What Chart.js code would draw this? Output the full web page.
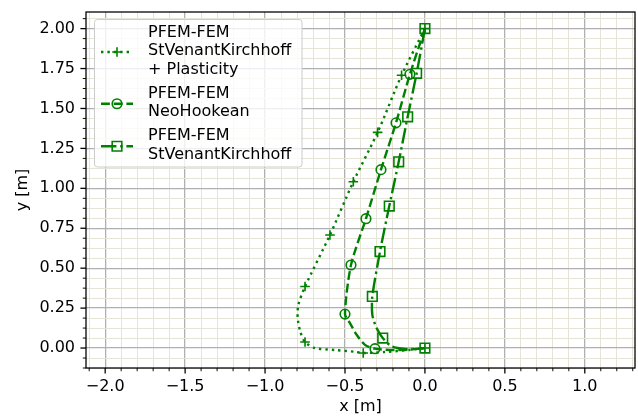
<!DOCTYPE html>
<html>
<head>
<meta charset="utf-8">
<script src="https://cdn.jsdelivr.net/npm/chart.js@4.4.0/dist/chart.umd.min.js"></script>
<style>
  html, body { margin: 0; padding: 0; background: #fff; }
  #wrap { width: 638px; height: 418px; }
</style>
</head>
<body>
<div id="wrap"><canvas id="chart" width="638" height="418"></canvas></div>
<script>
const GREEN = '#008000';
const FONT = '"DejaVu Sans", "Liberation Sans", sans-serif';

// PFEM-FEM StVenantKirchhoff + Plasticity (dotted, +)
const plastX = [0.0, -0.146, -0.296, -0.448, -0.594, -0.750, -0.792, -0.796, -0.780, -0.750, -0.688, -0.563, -0.440, -0.386, -0.250, -0.100, 0.0];
const plastY = [2.0, 1.708, 1.350, 1.041, 0.708, 0.385, 0.270, 0.190, 0.104, 0.0375, 0.0, -0.0125, -0.023, -0.031, -0.025, -0.012, 0.0];
const plastMark = [1, 1, 1, 1, 1, 1, 0, 0, 0, 1, 0, 0, 0, 1, 0, 0, 1];

// PFEM-FEM NeoHookean (dashed, o)
const neoX = [0.0, -0.094, -0.181, -0.275, -0.369, -0.4625, -0.500, -0.469, -0.427, -0.375, -0.3125, -0.220, -0.100, 0.0];
const neoY = [2.0, 1.714, 1.410, 1.117, 0.810, 0.520, 0.2125, 0.156, 0.083, 0.020, -0.004, -0.012, -0.010, 0.0];
const neoMark = [0, 1, 1, 1, 1, 1, 1, 0, 0, 0, 1, 0, 0, 0];

// PFEM-FEM StVenantKirchhoff (dash-dot, square)
const stvkX = [0.0, -0.052, -0.108, -0.164, -0.223, -0.281, -0.329, -0.329, -0.302, -0.264, -0.208, -0.125, -0.040, 0.0];
const stvkY = [2.0, 1.720, 1.448, 1.166, 0.889, 0.604, 0.323, 0.208, 0.125, 0.0625, 0.010, -0.006, -0.004, 0.0];
const stvkMark = [1, 1, 1, 1, 1, 1, 1, 0, 0, 1, 0, 0, 0, 1];

const legendLabels = [
  ['PFEM-FEM', 'StVenantKirchhoff', '+ Plasticity'],
  ['PFEM-FEM', 'NeoHookean'],
  ['PFEM-FEM', 'StVenantKirchhoff']
];

const xMajorTicks = [-2.0, -1.5, -1.0, -0.5, 0.0, 0.5, 1.0];
const yMajorTicks = [0.00, 0.25, 0.50, 0.75, 1.00, 1.25, 1.50, 1.75, 2.00];
const xMinorStep = 0.1;
const yMinorStep = 0.0625;
const xRange = [-2.12, 1.314];
const yRange = [-0.125, 2.104];

// minor + major tick positions for the grid
const xTickValues = [];
for (let i = Math.ceil(xRange[0] / xMinorStep); i * xMinorStep <= xRange[1] + 1e-9; i++) xTickValues.push(+(i * xMinorStep).toFixed(4));
const yTickValues = [];
for (let i = Math.ceil(yRange[0] / yMinorStep - 1e-9); i * yMinorStep <= yRange[1] + 1e-9; i++) yTickValues.push(+(i * yMinorStep).toFixed(4));

const isMajor = (v, list) => list.some(m => Math.abs(m - v) < 1e-6);
const fmt = (v, d) => {
  const s = Math.abs(v).toFixed(d);
  return v < -1e-9 ? '\u2212' + s : s;
};

const series = [
  { label: legendLabels[0], xs: plastX, ys: plastY, mark: plastMark, dash: [2.4, 4], style: 'cross', r: 4.8 },
  { label: legendLabels[1], xs: neoX, ys: neoY, mark: neoMark, dash: [8.9, 3.8], style: 'circle', r: 4.8 },
  { label: legendLabels[2], xs: stvkX, ys: stvkY, mark: stvkMark, dash: [15.4, 3.8, 2.4, 3.8], style: 'rect', r: 6.8 }
];

const datasets = series.map(s => ({
  label: s.label.join(' '),
  data: s.xs.map((x, i) => ({ x, y: s.ys[i] })),
  showLine: true,
  borderColor: GREEN,
  borderWidth: 2.4,
  borderDash: s.dash,
  borderCapStyle: 'butt',
  tension: 0.25,
  pointStyle: s.style,
  pointRadius: ctx => s.mark[ctx.dataIndex] ? s.r : 0,
  pointHoverRadius: ctx => s.mark[ctx.dataIndex] ? s.r : 0,
  pointBorderColor: GREEN,
  pointBackgroundColor: 'rgba(0,0,0,0)',
  pointBorderWidth: 1.6
}));

// no extra room for half labels at the axis ends
function noEndPadding(axis) {
  axis.paddingTop = 0;
  axis.paddingBottom = 0;
  axis.paddingLeft = 0;
  axis.paddingRight = 0;
}

// ticks, frame, axis titles and the legend box
const decorPlugin = {
  id: 'decor',
  afterDraw(chart) {
    const { ctx, chartArea: a, scales } = chart;
    ctx.save();
    ctx.strokeStyle = '#000';
    // tick marks
    scales.x.ticks.forEach(t => {
      const major = isMajor(t.value, xMajorTicks);
      const px = scales.x.getPixelForValue(t.value);
      ctx.lineWidth = major ? 1.28 : 0.96;
      ctx.beginPath();
      ctx.moveTo(px, a.bottom);
      ctx.lineTo(px, a.bottom + (major ? 5.6 : 3.2));
      ctx.stroke();
    });
    scales.y.ticks.forEach(t => {
      const major = isMajor(t.value, yMajorTicks);
      const py = scales.y.getPixelForValue(t.value);
      ctx.lineWidth = major ? 1.28 : 0.96;
      ctx.beginPath();
      ctx.moveTo(a.left - (major ? 5.6 : 3.2), py);
      ctx.lineTo(a.left, py);
      ctx.stroke();
    });
    // frame
    ctx.lineWidth = 1.28;
    ctx.strokeRect(a.left, a.top, a.right - a.left, a.bottom - a.top);

    // axis titles
    ctx.fillStyle = '#000';
    ctx.font = '16px ' + FONT;
    ctx.textAlign = 'center';
    ctx.textBaseline = 'middle';
    ctx.fillText('x [m]', (a.left + a.right) / 2, 407);
    ctx.save();
    ctx.translate(23, (a.top + a.bottom) / 2);
    ctx.rotate(-Math.PI / 2);
    ctx.fillText('y [m]', 0, 0);
    ctx.restore();

    // legend
    const box = { x: 94.5, y: 19.5, w: 207.5, h: 147.5 };
    ctx.beginPath();
    ctx.roundRect(box.x, box.y, box.w, box.h, 3);
    ctx.fillStyle = 'rgba(255,255,255,0.8)';
    ctx.fill();
    ctx.strokeStyle = '#cccccc';
    ctx.lineWidth = 1;
    ctx.stroke();

    const lineH = 18.5, gap = 24;
    let y = 32.5;
    series.forEach(s => {
      const n = s.label.length;
      const sy = y + (n - 1) * lineH / 2 + 1;
      ctx.strokeStyle = GREEN;
      ctx.lineWidth = 2.4;
      ctx.setLineDash(s.dash);
      ctx.beginPath();
      ctx.moveTo(101, sy);
      ctx.lineTo(133, sy);
      ctx.stroke();
      ctx.setLineDash([]);
      ctx.fillStyle = 'rgba(0,0,0,0)';
      ctx.strokeStyle = GREEN;
      ctx.lineWidth = 1.6;
      Chart.helpers.drawPoint(ctx, { pointStyle: s.style, radius: s.r, borderWidth: 1.6, rotation: 0 }, 117, sy);
      ctx.fillStyle = '#000';
      ctx.textAlign = 'left';
      ctx.textBaseline = 'middle';
      s.label.forEach((txt, i) => ctx.fillText(txt, 148, y + i * lineH));
      y += (n - 1) * lineH + gap;
    });
    ctx.restore();
  }
};

new Chart(document.getElementById('chart').getContext('2d'), {
  type: 'scatter',
  data: { datasets },
  plugins: [decorPlugin],
  options: {
    responsive: false,
    animation: false,
    devicePixelRatio: 1,
    layout: { autoPadding: false, padding: { top: 12, right: 3, left: 0, bottom: 0 } },
    plugins: { legend: { display: false }, tooltip: { enabled: false } },
    scales: {
      x: {
        type: 'linear',
        min: xRange[0],
        max: xRange[1],
        afterBuildTicks: axis => { axis.ticks = xTickValues.map(v => ({ value: v })); },
        afterFit: axis => { axis.height = 50; noEndPadding(axis); },
        border: { display: false },
        grid: {
          drawTicks: false,
          color: c => isMajor(c.tick.value, xMajorTicks) ? '#b0b0b0' : '#e5e4d7',
          lineWidth: c => isMajor(c.tick.value, xMajorTicks) ? 1.28 : 1
        },
        ticks: {
          autoSkip: false,
          maxRotation: 0,
          padding: 9,
          color: '#000',
          font: { family: FONT, size: 16 },
          callback: v => isMajor(v, xMajorTicks) ? fmt(v, 1) : ''
        }
      },
      y: {
        type: 'linear',
        min: yRange[0],
        max: yRange[1],
        afterBuildTicks: axis => { axis.ticks = yTickValues.map(v => ({ value: v })); },
        afterFit: axis => { axis.width = 86; noEndPadding(axis); },
        border: { display: false },
        grid: {
          drawTicks: false,
          color: c => isMajor(c.tick.value, yMajorTicks) ? '#b0b0b0' : '#e5e4d7',
          lineWidth: c => isMajor(c.tick.value, yMajorTicks) ? 1.28 : 1
        },
        ticks: {
          autoSkip: false,
          padding: 11,
          color: '#000',
          font: { family: FONT, size: 16 },
          callback: v => isMajor(v, yMajorTicks) ? fmt(v, 2) : ''
        }
      }
    }
  }
});
</script>
</body>
</html>
